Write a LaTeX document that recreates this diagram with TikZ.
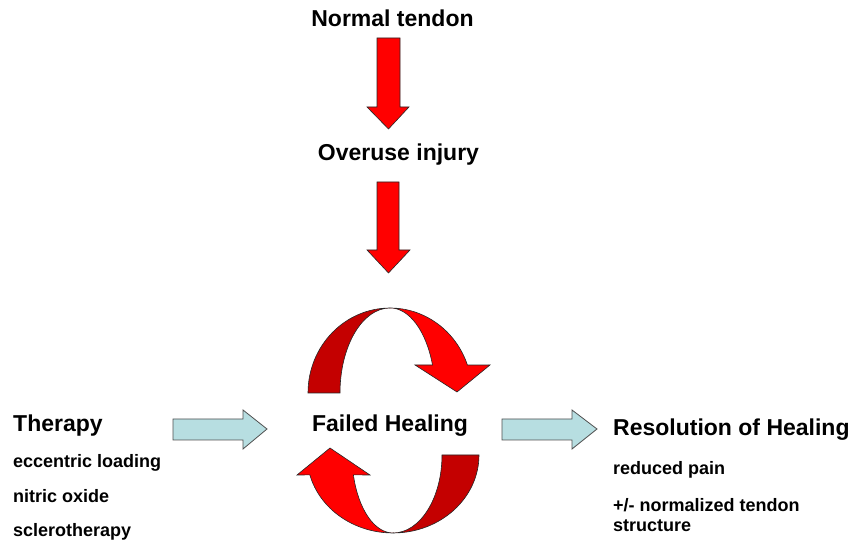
\documentclass[tikz,border=0pt]{standalone}
\usepackage{fontspec}
\setmainfont{Liberation Sans}
\definecolor{arrowred}{RGB}{255,0,0}
\definecolor{bandred}{RGB}{196,0,0}
\definecolor{paleblue}{RGB}{183,222,225}
\definecolor{edgegray}{RGB}{80,80,80}
\begin{document}
\begin{tikzpicture}[x=1pt,y=1pt,
  redarrow/.style={fill=arrowred, draw=black!85, line width=0.6pt, line join=miter},
  darkband/.style={fill=bandred, draw=black!85, line width=0.6pt, line join=miter},
  brightband/.style={fill=arrowred, draw=black!85, line width=0.6pt, line join=miter},
  bluearrow/.style={fill=paleblue, draw=edgegray, line width=0.8pt, line join=miter},
  heading/.style={font=\fontsize{23}{27}\selectfont\bfseries, inner sep=0pt, anchor=base},
  item/.style={font=\fontsize{18}{20}\selectfont\bfseries, inner sep=0pt, anchor=base west}]
\useasboundingbox (0,0) rectangle (855,546);

% straight red arrows
\draw[redarrow] (377,508) -- (400,508) -- (400,439) -- (409,439) -- (388.5,417) -- (367,439) -- (377,439) -- cycle;
\draw[redarrow] (377,364) -- (399,364) -- (399,296) -- (410,296) -- (388.5,273) -- (367,296) -- (377,296) -- cycle;

% upper circular arrow
\draw[darkband] (308,153) arc[start angle=180,end angle=90,x radius=82,y radius=85]
  arc[start angle=90,end angle=180,x radius=50,y radius=85] -- cycle;
\draw[brightband] (390,238) arc[start angle=90,end angle=19.2,x radius=82,y radius=85]
  -- (490,181) -- (457,154) -- (415,181) -- (432.5,181)
  arc[start angle=19.2,end angle=90,x radius=45,y radius=85] -- cycle;

% lower circular arrow
\draw[darkband] (479,91) arc[start angle=0,end angle=-90,x radius=86,y radius=78]
  arc[start angle=-90,end angle=0,x radius=49,y radius=78] -- cycle;
\draw[brightband] (393,13) arc[start angle=270,end angle=194.8,x radius=86,y radius=78]
  -- (297,71) -- (330,98) -- (370,71) -- (353.4,71.1)
  arc[start angle=194.8,end angle=270,x radius=41,y radius=78] -- cycle;

% pale blue arrows
\draw[bluearrow] (173,127) -- (243,127) -- (243,136) -- (267,117) -- (243,97) -- (243,106) -- (173,106) -- cycle;
\draw[bluearrow] (502,127) -- (572,127) -- (572,136) -- (597,117) -- (572,97) -- (572,106) -- (502,106) -- cycle;

% texts
\node[heading] (normal) at (392.5,519) {Normal tendon};
\node[heading] (overuse) at (398.5,385) {Overuse injury};
\node[heading] (failed) at (390,114) {Failed Healing};
\node[heading, anchor=base west] (therapy) at (13,114) {Therapy};
\node[heading, anchor=base west] (resolution) at (613,110) {Resolution of Healing};

\node[item] (ecc) at (13,78) {eccentric loading};
\node[item] (nitric) at (13,43) {nitric oxide};
\node[item] (sclero) at (13,9) {sclerotherapy};

\node[item] (pain) at (613,71) {reduced pain};
\node[item] (norm) at (613,34) {+/- normalized tendon};
\node[item] (struct) at (613,14) {structure};
\end{tikzpicture}
\end{document}
